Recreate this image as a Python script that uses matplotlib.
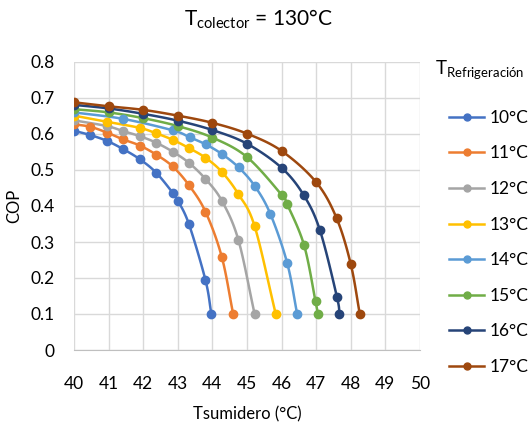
import numpy as np
import matplotlib
matplotlib.use("Agg")
import matplotlib.pyplot as plt
from matplotlib.lines import Line2D

plt.rcParams['font.family'] = ['Lato', 'DejaVu Sans']

labels = ["10°C", "11°C", "12°C", "13°C", "14°C", "15°C", "16°C", "17°C"]
colors = ["#4472C4", "#ED7D31", "#A5A5A5", "#FFC000", "#5B9BD5", "#70AD47", "#264478", "#9E480E"]

x10 = [40.0, 40.47, 40.95, 41.42, 41.9, 42.37, 42.85, 43.0, 43.32, 43.8, 43.97]
y10 = [0.609, 0.597, 0.581, 0.558, 0.530, 0.493, 0.437, 0.415, 0.350, 0.194, 0.1]
x11 = [40.0, 40.47, 40.95, 41.42, 41.9, 42.37, 42.85, 43.32, 43.8, 44.27, 44.6]
y11 = [0.627, 0.620, 0.604, 0.585, 0.568, 0.543, 0.510, 0.458, 0.384, 0.259, 0.1]
x12 = [40.0, 40.95, 41.42, 41.9, 42.37, 42.85, 43.32, 43.8, 44.27, 44.75, 45.22]
y12 = [0.638, 0.622, 0.608, 0.594, 0.576, 0.551, 0.520, 0.475, 0.415, 0.306, 0.1]
x13 = [40.0, 40.95, 41.9, 42.37, 42.85, 43.32, 43.8, 44.27, 44.75, 45.22, 45.83]
y13 = [0.651, 0.634, 0.617, 0.602, 0.584, 0.561, 0.534, 0.495, 0.433, 0.344, 0.1]
x14 = [40.0, 41.42, 42.86, 43.34, 43.81, 44.28, 44.76, 45.22, 45.67, 46.16, 46.45]
y14 = [0.660, 0.642, 0.610, 0.591, 0.571, 0.544, 0.507, 0.456, 0.379, 0.242, 0.1]
x15 = [40.0, 41.0, 42.0, 43.0, 44.0, 45.0, 46.0, 46.16, 46.65, 46.98, 47.05]
y15 = [0.669, 0.660, 0.644, 0.622, 0.590, 0.536, 0.431, 0.405, 0.291, 0.135, 0.1]
x16 = [40.0, 41.0, 42.0, 43.0, 44.0, 45.0, 46.0, 46.64, 47.11, 47.6, 47.67]
y16 = [0.681, 0.671, 0.656, 0.637, 0.611, 0.573, 0.506, 0.430, 0.332, 0.147, 0.1]
x17 = [40.0, 41.0, 42.0, 43.0, 44.0, 45.0, 46.0, 47.0, 47.59, 48.0, 48.26]
y17 = [0.688, 0.677, 0.667, 0.651, 0.631, 0.601, 0.553, 0.466, 0.366, 0.238, 0.1]

xs = [x10, x11, x12, x13, x14, x15, x16, x17]
ys = [y10, y11, y12, y13, y14, y15, y16, y17]

xticks = [40, 41, 42, 43, 44, 45, 46, 47, 48, 49, 50]
yticks = [0, 0.1, 0.2, 0.3, 0.4, 0.5, 0.6, 0.7, 0.8]
ytick_labels = ["0", "0.1", "0.2", "0.3", "0.4", "0.5", "0.6", "0.7", "0.8"]


def smooth(x, y, n=12):
    p = np.column_stack([x, y]).astype(float)
    p = np.vstack([2 * p[0] - p[1], p, 2 * p[-1] - p[-2]])
    out = []
    t = np.linspace(0, 1, n, endpoint=False)[:, None]
    for i in range(1, len(p) - 2):
        p0, p1, p2, p3 = p[i - 1], p[i], p[i + 1], p[i + 2]
        seg = 0.5 * ((2 * p1) + (-p0 + p2) * t + (2 * p0 - 5 * p1 + 4 * p2 - p3) * t ** 2
                     + (-p0 + 3 * p1 - 3 * p2 + p3) * t ** 3)
        out.append(seg)
    out.append(p[-2][None, :])
    out = np.vstack(out)
    return out[:, 0], out[:, 1]


fig = plt.figure(figsize=(5.28, 4.23), dpi=100)
ax = fig.add_axes([74 / 528, 1 - 350 / 423, 346 / 528, 288 / 423])

for x, y, c in zip(xs, ys, colors):
    sx, sy = smooth(x, y)
    ax.plot(sx, sy, color=c, lw=1.8, zorder=3)
    ax.plot(x, y, 'o', color=c, ms=6, zorder=4)

ax.set_xlim(40, 50)
ax.set_ylim(0, 0.8)
ax.set_xticks(xticks)
ax.set_xticklabels([str(v) for v in xticks])
ax.set_yticks(yticks)
ax.set_yticklabels(ytick_labels)
ax.grid(True, color="#D9D9D9", lw=1.0, zorder=0)
ax.set_axisbelow(True)
for s in ["top", "right", "left"]:
    ax.spines[s].set_visible(False)
ax.spines["bottom"].set_color("#BFBFBF")
ax.tick_params(length=0, labelsize=12.5, colors="#000000")
ax.tick_params(axis='x', pad=19)
ax.tick_params(axis='y', pad=14)

ax.set_xlabel("Tsumidero (°C)", fontsize=12, labelpad=10)
ax.set_ylabel("COP", fontsize=12, labelpad=6)

fig.text(0.49, 0.955, r"T$_{\mathregular{colector}}$ = 130°C", ha="center", va="center", fontsize=15)

handles = [Line2D([0], [0], color=c, lw=1.8, marker='o', ms=5) for c in colors]
leg = fig.legend(handles, labels, loc="upper left", bbox_to_anchor=(0.838, 0.757),
                 frameon=False, fontsize=12.5, handlelength=2.0, handletextpad=0.3,
                 labelspacing=1.13, borderaxespad=0)
fig.text(0.823, 0.834, r"T$_{\mathregular{Refrigeración}}$", ha="left", va="center", fontsize=13.5)

fig.savefig("out.png", dpi=100)
